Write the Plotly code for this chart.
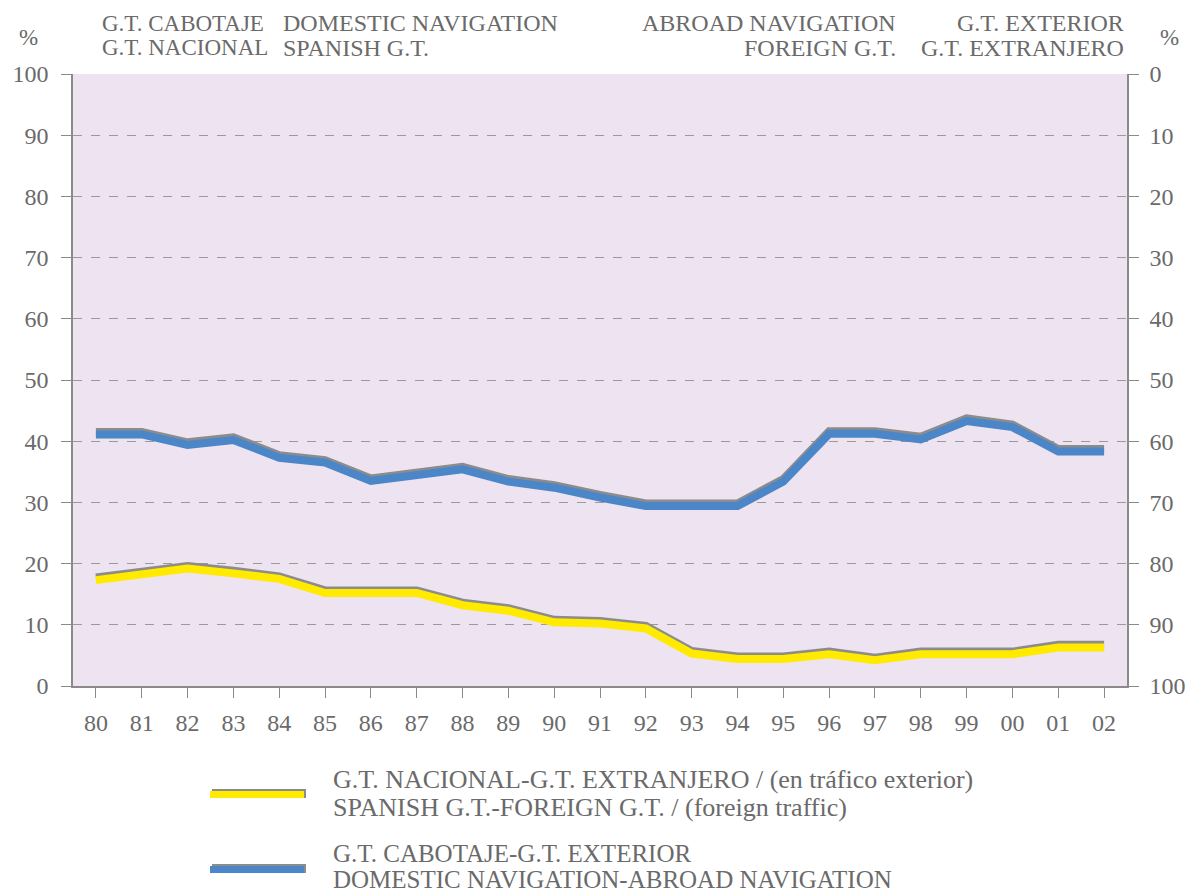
import plotly.graph_objects as go

years = ["80", "81", "82", "83", "84", "85", "86", "87", "88", "89", "90", "91",
         "92", "93", "94", "95", "96", "97", "98", "99", "00", "01", "02"]
cabotaje_exterior = [41.1, 41.1, 39.4, 40.2, 37.3, 36.5, 33.5, 34.5, 35.4, 33.4, 32.4, 30.8,
                     29.4, 29.4, 29.4, 33.4, 41.2, 41.2, 40.3, 43.3, 42.3, 38.3, 38.3]
nacional_extranjero = [17.3, 18.4, 19.2, 18.4, 17.5, 15.2, 15.2, 15.2, 13.2, 12.3, 10.4, 10.2,
                       9.4, 5.3, 4.4, 4.4, 5.2, 4.2, 5.2, 5.2, 5.2, 6.3, 6.3]
left_ticks = list(range(0, 101, 10))

FONT = "Liberation Serif"
TXT = "#6a6a6a"
AX = "#8a8a8a"
YELLOW = "#ffea00"
BLUE = "#4a86c8"
SHADOW = "#8c8c8c"

OFF = 8  # page offset
L, R, T, B = 73, 1127, 74, 686
W, H = 1196, 894
def px(x):
    return (x - L) / (R - L)
def py(y):
    return (B - y) / (B - T)

fig = go.Figure()
# invisible trace anchoring the main (left) axis
fig.add_trace(go.Scatter(x=years, y=cabotaje_exterior, mode="lines",
                         line=dict(width=0), opacity=0, hoverinfo="skip",
                         showlegend=False))
# shadow lines (on a slightly shifted overlay scale)
for vals in (nacional_extranjero, cabotaje_exterior):
    fig.add_trace(go.Scatter(x=years, y=vals, mode="lines", yaxis="y3",
                             line=dict(color=SHADOW, width=8), hoverinfo="skip",
                             showlegend=False))
fig.add_trace(go.Scatter(x=years, y=nacional_extranjero, mode="lines", yaxis="y4",
                         line=dict(color=YELLOW, width=8), showlegend=False,
                         name="G.T. NACIONAL-G.T. EXTRANJERO"))
fig.add_trace(go.Scatter(x=years, y=cabotaje_exterior, mode="lines", yaxis="y4",
                         line=dict(color=BLUE, width=8), showlegend=False,
                         name="G.T. CABOTAJE-G.T. EXTERIOR"))
# invisible trace for right axis
fig.add_trace(go.Scatter(x=years, y=[100 - v for v in cabotaje_exterior], yaxis="y2",
                         mode="lines", line=dict(width=0), opacity=0,
                         hoverinfo="skip", showlegend=False))

tickfont = dict(family=FONT, size=24, color=TXT)
fig.update_layout(
    width=W, height=H,
    margin=dict(l=L - OFF, r=W - R + OFF, t=T - OFF, b=H - B + OFF, pad=0,
                autoexpand=False),
    paper_bgcolor="white",
    plot_bgcolor="#eee3f0",
    xaxis=dict(type="category", range=[-0.5, 22.5], showgrid=False,
               showline=True, linecolor=AX, linewidth=1.5, automargin=False,
               ticks="outside", ticklen=10, tickcolor=AX, tickwidth=1,
               tickfont=tickfont, zeroline=False, ticklabelstandoff=4),
    yaxis=dict(range=[0, 100], tickvals=left_ticks, showgrid=True,
               gridcolor="#9a9a9a", griddash="dash", gridwidth=1,
               showline=True, linecolor=AX, linewidth=1.5, automargin=False,
               ticks="outside", ticklen=10, tickcolor=AX,
               tickfont=tickfont, zeroline=False, ticklabelstandoff=8),
    yaxis2=dict(range=[100, 0], overlaying="y", side="right",
                tickvals=left_ticks, showgrid=False, automargin=False,
                showline=True, linecolor=AX, linewidth=1.5,
                ticks="outside", ticklen=10, tickcolor=AX,
                tickfont=tickfont, zeroline=False, ticklabelstandoff=6),
    yaxis3=dict(range=[-0.42, 99.58], overlaying="y", visible=False),
    yaxis4=dict(range=[0, 100], overlaying="y", visible=False),
    showlegend=False,
)

ann = []
def add(text, x, y, xanchor="left", size=24):
    ann.append(dict(text=text, x=px(x), y=py(y), xref="paper", yref="paper",
                    xanchor=xanchor, yanchor="middle", showarrow=False,
                    font=dict(family=FONT, size=size, color=TXT)))
add("%", 28, 38, "center", 23)
add("G.T. CABOTAJE", 100, 23, size=23)
add("G.T. NACIONAL", 100, 48, size=23)
add("DOMESTIC NAVIGATION", 281, 23)
add("SPANISH G.T.", 281, 48)
add("ABROAD NAVIGATION", 898, 23, "right")
add("FOREIGN G.T.", 898, 48, "right")
add("G.T. EXTERIOR", 1126, 23, "right")
add("G.T. EXTRANJERO", 1126, 48, "right")
add("%", 1169, 38, "center", 23)
add("G.T. NACIONAL-G.T. EXTRANJERO / (en tráfico exterior)", 331, 780, size=26)
add("SPANISH G.T.-FOREIGN G.T. / (foreign traffic)", 331, 807, size=26)
add("G.T. CABOTAJE-G.T. EXTERIOR", 331, 853, size=25)
add("DOMESTIC NAVIGATION-ABROAD NAVIGATION", 331, 879, size=25)
fig.update_layout(annotations=ann)

shapes = []
for (y0, col) in ((790, YELLOW), (865, BLUE)):
    shapes.append(dict(type="rect", xref="paper", yref="paper",
                       x0=px(212), x1=px(306), y0=py(y0 + 8), y1=py(y0 - 1),
                       fillcolor=SHADOW, line=dict(width=0)))
    shapes.append(dict(type="rect", xref="paper", yref="paper",
                       x0=px(210), x1=px(304), y0=py(y0 + 8), y1=py(y0 + 1),
                       fillcolor=col, line=dict(width=0)))
fig.update_layout(shapes=shapes)

fig.write_html("out.html")
